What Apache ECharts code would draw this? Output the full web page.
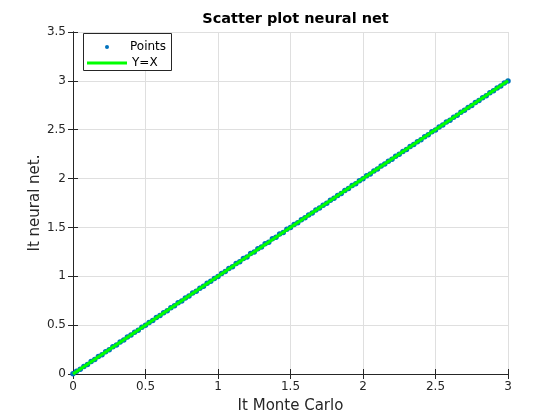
<!DOCTYPE html>
<html>
<head>
<meta charset="utf-8">
<script src="https://cdn.jsdelivr.net/npm/echarts@6/dist/echarts.min.js"></script>
<style>html,body{margin:0;padding:0;background:#fff}#c{width:560px;height:420px}</style>
</head>
<body>
<div id="c"></div>
<script>
const monteCarlo = [0.000,0.025,0.050,0.075,0.100,0.125,0.150,0.175,0.200,0.225,0.250,0.275,0.300,0.325,0.350,0.375,0.400,0.425,0.450,0.475,0.500,0.525,0.550,0.575,0.600,0.625,0.650,0.675,0.700,0.725,0.750,0.775,0.800,0.825,0.850,0.875,0.900,0.925,0.950,0.975,1.000,1.025,1.050,1.075,1.100,1.125,1.150,1.175,1.200,1.225,1.250,1.275,1.300,1.325,1.350,1.375,1.400,1.425,1.450,1.475,1.500,1.525,1.550,1.575,1.600,1.625,1.650,1.675,1.700,1.725,1.750,1.775,1.800,1.825,1.850,1.875,1.900,1.925,1.950,1.975,2.000,2.025,2.050,2.075,2.100,2.125,2.150,2.175,2.200,2.225,2.250,2.275,2.300,2.325,2.350,2.375,2.400,2.425,2.450,2.475,2.500,2.525,2.550,2.575,2.600,2.625,2.650,2.675,2.700,2.725,2.750,2.775,2.800,2.825,2.850,2.875,2.900,2.925,2.950,2.975,3.000];
const neuralNet = [0.002,0.027,0.048,0.078,0.098,0.128,0.148,0.178,0.198,0.228,0.248,0.278,0.298,0.328,0.348,0.378,0.398,0.428,0.448,0.478,0.498,0.528,0.548,0.578,0.598,0.628,0.648,0.678,0.698,0.728,0.748,0.778,0.798,0.828,0.848,0.878,0.898,0.928,0.948,0.978,0.998,1.029,1.048,1.080,1.098,1.131,1.148,1.181,1.198,1.232,1.248,1.283,1.299,1.334,1.349,1.384,1.399,1.433,1.448,1.482,1.498,1.530,1.548,1.579,1.598,1.628,1.648,1.678,1.698,1.728,1.748,1.778,1.798,1.828,1.848,1.878,1.898,1.928,1.948,1.978,1.998,2.028,2.048,2.078,2.098,2.128,2.148,2.178,2.198,2.228,2.248,2.278,2.298,2.328,2.348,2.378,2.398,2.428,2.448,2.478,2.498,2.528,2.548,2.578,2.598,2.628,2.648,2.678,2.698,2.728,2.748,2.778,2.798,2.828,2.848,2.878,2.898,2.928,2.948,2.978,2.999];
const lineX = [0, 3];
const lineY = [0, 3];
const xTicks = [0, 0.5, 1, 1.5, 2, 2.5, 3];
const yTicks = [0, 0.5, 1, 1.5, 2, 2.5, 3, 3.5];
const titleText = 'Scatter plot neural net';
const xName = 'It Monte Carlo';
const yName = 'It neural net.';
const seriesNames = ['Points', 'Y=X'];

const chart = echarts.init(document.getElementById('c'), null, {renderer: 'canvas'});
const font = 'DejaVu Sans';
const axisCol = '#262626';
const fmt = v => String(v);
const baseAxis = {
  type: 'value',
  axisLine: {show: true, lineStyle: {color: axisCol, width: 1}},
  axisTick: {show: true, inside: true, length: 5, lineStyle: {color: axisCol}},
  splitLine: {show: true, lineStyle: {color: '#dfdfdf', width: 1}},
};
chart.setOption({
  animation: false,
  backgroundColor: '#ffffff',
  title: {
    text: titleText, left: 290.5, top: 7, textAlign: 'center',
    textStyle: {fontFamily: font, fontSize: 14.5, fontWeight: 'bold', color: '#000'}
  },
  grid: {left: 73, right: 52, top: 32, bottom: 46, containLabel: false},
  graphic: [{
    type: 'rect', left: 83, top: 33, z: 10,
    shape: {width: 88, height: 37},
    style: {fill: '#fff', stroke: axisCol, lineWidth: 1}
  }],
  legend: [{
    data: [{name: seriesNames[0], icon: 'circle'}],
    left: 105, top: 41, padding: 0, itemWidth: 4, itemHeight: 4, z: 20,
    textStyle: {fontFamily: font, fontSize: 12, color: '#000', padding: [0, 0, 0, 16]}
  }, {
    data: [{name: seriesNames[1], icon: 'rect'}],
    left: 87, top: 57, padding: 0, itemWidth: 40, itemHeight: 3, z: 20,
    textStyle: {fontFamily: font, fontSize: 12, color: '#000'}
  }],
  xAxis: [Object.assign({}, baseAxis, {
    min: xTicks[0], max: xTicks[xTicks.length - 1], interval: 0.5,
    name: xName, nameLocation: 'middle', nameGap: 25, nameMoveOverlap: false,
    nameTextStyle: {fontFamily: font, fontSize: 15, color: '#262626'},
    axisLabel: {fontFamily: font, fontSize: 12, color: '#262626', margin: 7, formatter: fmt}
  }), Object.assign({}, baseAxis, {
    position: 'top', min: xTicks[0], max: xTicks[xTicks.length - 1], interval: 0.5,
    axisLabel: {show: false}, splitLine: {show: false}
  })],
  yAxis: [Object.assign({}, baseAxis, {
    min: yTicks[0], max: yTicks[yTicks.length - 1], interval: 0.5,
    name: yName, nameLocation: 'middle', nameGap: 30, nameMoveOverlap: false,
    nameTextStyle: {fontFamily: font, fontSize: 15, color: '#262626'},
    axisLabel: {fontFamily: font, fontSize: 12, color: '#262626', margin: 7, formatter: fmt}
  }), Object.assign({}, baseAxis, {
    position: 'right', min: yTicks[0], max: yTicks[yTicks.length - 1], interval: 0.5,
    axisLabel: {show: false}, splitLine: {show: false}
  })],
  series: [{
    name: seriesNames[0], type: 'scatter',
    data: monteCarlo.map((x, i) => [x, neuralNet[i]]),
    symbol: 'circle', symbolSize: 5.5,
    itemStyle: {color: '#0072BD', opacity: 1}
  }, {
    name: seriesNames[1], type: 'line',
    data: lineX.map((x, i) => [x, lineY[i]]),
    showSymbol: false, symbol: 'none',
    lineStyle: {color: '#00ff00', width: 3},
    itemStyle: {color: '#00ff00'}
  }]
});
</script>
</body>
</html>
